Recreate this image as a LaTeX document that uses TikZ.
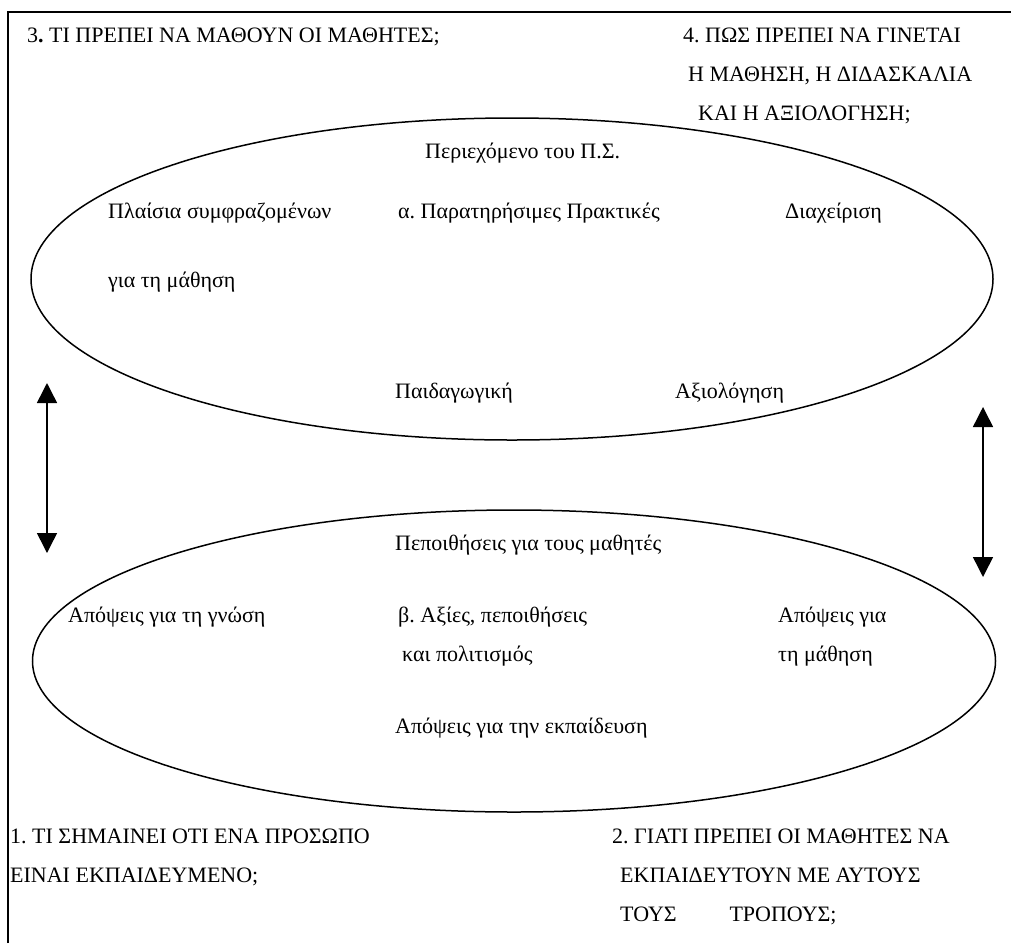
\documentclass[tikz,border=0pt]{standalone}
\usepackage{fontspec}
\setmainfont{Liberation Serif}
\usetikzlibrary{shapes.geometric,arrows.meta}
\frenchspacing

\tikzset{
  lbl/.style={anchor=base west, inner sep=0pt, font=\fontsize{22}{26}\selectfont},
  oval/.style={draw, ellipse, line width=1.5pt, inner sep=0pt},
  frameline/.style={line width=1.6pt},
  twoway/.style={line width=1.5pt, {Triangle[length=20pt,width=20pt]}-{Triangle[length=20pt,width=20pt]}}
}

\begin{document}
\begin{tikzpicture}[x=1pt,y=-1pt]
  \useasboundingbox (0,0) rectangle (1011,943);

  % outer frame (left and top sides)
  \coordinate (fb) at (8,943);
  \coordinate (fc) at (8,12);
  \coordinate (fr) at (1011,12);
  \draw[frameline] (fb) -- (fc) -- (fr);

  % the two ovals
  \node[oval, minimum width=962pt, minimum height=322pt] (practices) at (512,279) {};
  \node[oval, minimum width=963pt, minimum height=302pt] (beliefs) at (514,661) {};

  % double-headed arrows between the ovals
  \coordinate (la) at (47,383);
  \coordinate (lb) at (47,553);
  \coordinate (ra) at (983,407);
  \coordinate (rb) at (983,577);
  \draw[twoway] (la) -- (lb);
  \draw[twoway] (ra) -- (rb);

  % questions in the corners
  \node[lbl] (q3) at (27,42) {3\textbf{.} ΤΙ ΠΡΕΠΕΙ ΝΑ ΜΑΘΟΥΝ ΟΙ ΜΑΘΗΤΕΣ;};
  \node[lbl] (q4a) at (683,42) {4. ΠΩΣ ΠΡΕΠΕΙ ΝΑ ΓΙΝΕΤΑΙ};
  \node[lbl] (q4b) at (688,81) {Η ΜΑΘΗΣΗ, Η ΔΙΔΑΣΚΑΛΙΑ};
  \node[lbl] (q4c) at (698,120) {ΚΑΙ Η ΑΞΙΟΛΟΓΗΣΗ;};

  \node[lbl] (q1a) at (10,843) {1. ΤΙ ΣΗΜΑΙΝΕΙ ΟΤΙ ΕΝΑ ΠΡΟΣΩΠΟ};
  \node[lbl] (q1b) at (10,882) {ΕΙΝΑΙ ΕΚΠΑΙΔΕΥΜΕΝΟ;};
  \node[lbl] (q2a) at (612,843) {2. ΓΙΑΤΙ ΠΡΕΠΕΙ ΟΙ ΜΑΘΗΤΕΣ ΝΑ};
  \node[lbl] (q2b) at (620,882) {ΕΚΠΑΙΔΕΥΤΟΥΝ ΜΕ ΑΥΤΟΥΣ};
  \node[lbl] (q2c) at (620,921) {ΤΟΥΣ\hspace{2.4em}ΤΡΟΠΟΥΣ;};

  % contents of the upper oval
  \node[lbl] (content) at (425,158) {Περιεχόμενο του Π.Σ.};
  \node[lbl] (context) at (108,218) {Πλαίσια συμφραζομένων};
  \node[lbl] (contextb) at (108,287) {για τη μάθηση};
  \node[lbl] (observ) at (398,218) {α. Παρατηρήσιμες Πρακτικές};
  \node[lbl] (manage) at (785,218) {Διαχείριση};
  \node[lbl] (pedag) at (395,398) {Παιδαγωγική};
  \node[lbl] (assess) at (675,398) {Αξιολόγηση};

  % contents of the lower oval
  \node[lbl] (students) at (395,550) {Πεποιθήσεις για τους μαθητές};
  \node[lbl] (knowl) at (68,622) {Απόψεις για τη γνώση};
  \node[lbl] (values) at (398,622) {β. Αξίες, πεποιθήσεις};
  \node[lbl] (valuesb) at (402,661) {και πολιτισμός};
  \node[lbl] (learn) at (778,622) {Απόψεις για};
  \node[lbl] (learnb) at (778,661) {τη μάθηση};
  \node[lbl] (educ) at (395,733) {Απόψεις για την εκπαίδευση};
\end{tikzpicture}
\end{document}
